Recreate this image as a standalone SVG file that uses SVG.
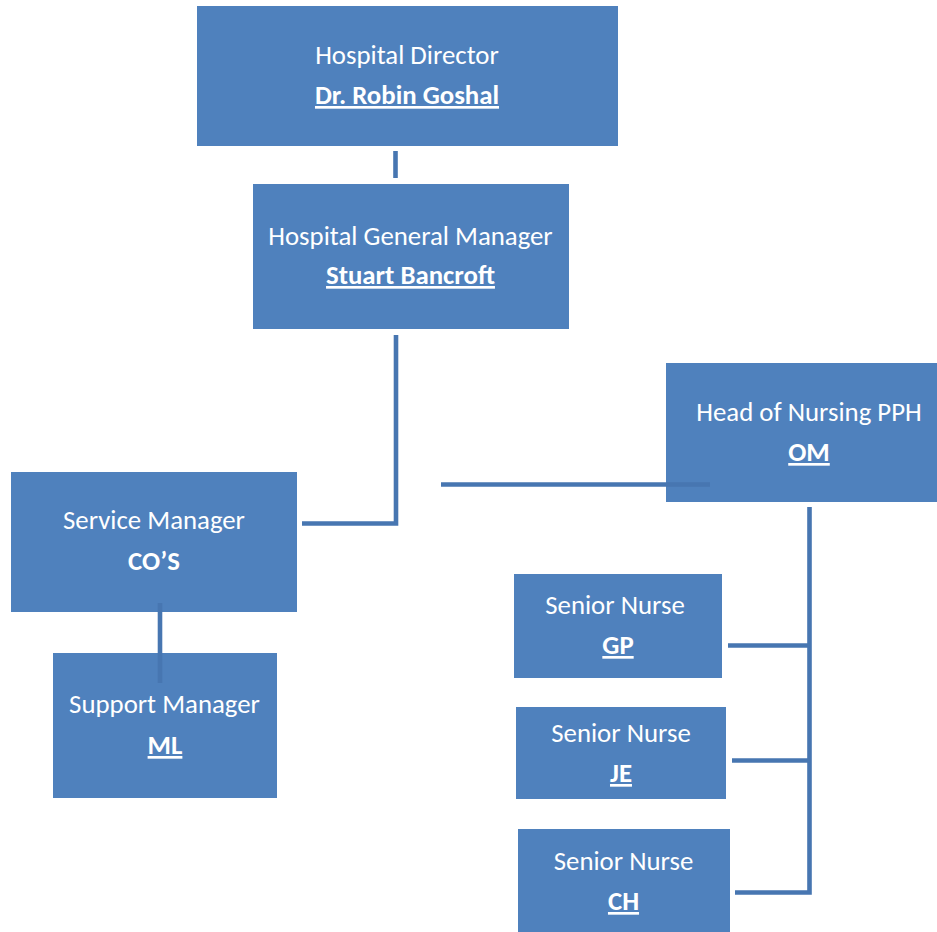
<svg xmlns="http://www.w3.org/2000/svg" width="937" height="932" viewBox="0 0 937 932">
<style>
.box{fill:#4F81BD;}
.t{font-family:Carlito,Lato,"Liberation Sans",sans-serif;font-size:26.8px;fill:#FFFFFF;text-anchor:middle;}
.b{font-weight:bold;}
.u{text-decoration:underline;}
.c{fill:none;stroke:#4776B1;stroke-width:4.6;}
</style>
<rect width="937" height="932" fill="#FFFFFF"/>
<g id="n-director">
<rect class="box" x="197" y="6" width="421" height="140"/>
<text class="t" x="407" y="64">Hospital Director</text>
<text class="t b u" x="407" y="104">Dr. Robin Goshal</text>
</g>
<g id="n-gm">
<rect class="box" x="253" y="184" width="316" height="145"/>
<text class="t" x="410.5" y="245">Hospital General Manager</text>
<text class="t b u" x="410.5" y="284">Stuart Bancroft</text>
</g>
<g id="n-head">
<rect class="box" x="666" y="363" width="271" height="139"/>
<text class="t" x="809" y="421">Head of Nursing PPH</text>
<text class="t b u" x="809" y="461">OM</text>
</g>
<g id="n-service">
<rect class="box" x="11" y="472" width="286" height="140"/>
<text class="t" x="154" y="529">Service Manager</text>
<text class="t b" x="154" y="570">CO’S</text>
</g>
<g id="n-support">
<rect class="box" x="53" y="653" width="224" height="145"/>
<text class="t" x="164.5" y="713">Support Manager</text>
<text class="t b u" x="165" y="754">ML</text>
</g>
<g id="n-gp">
<rect class="box" x="514" y="574" width="208" height="104"/>
<text class="t" x="615" y="614">Senior Nurse</text>
<text class="t b u" x="618" y="654">GP</text>
</g>
<g id="n-je">
<rect class="box" x="516" y="707" width="210" height="92"/>
<text class="t" x="621" y="742">Senior Nurse</text>
<text class="t b u" x="621" y="782">JE</text>
</g>
<g id="n-ch">
<rect class="box" x="518" y="829" width="212" height="103"/>
<text class="t" x="623.5" y="870">Senior Nurse</text>
<text class="t b u" x="623.5" y="910">CH</text>
</g>
<g id="connectors">
<path class="c" d="M395.5,151 V178"/>
<path class="c" d="M396,335 V523.5 H302"/>
<path class="c" d="M441,484.5 H710"/>
<path class="c" d="M160,603 V683" stroke-width="5.5"/>
<path class="c" d="M809.5,507 V892.5 H735"/>
<path class="c" d="M728,645.5 H809.5"/>
<path class="c" d="M732,760.5 H809.5"/>
</g>
</svg>
